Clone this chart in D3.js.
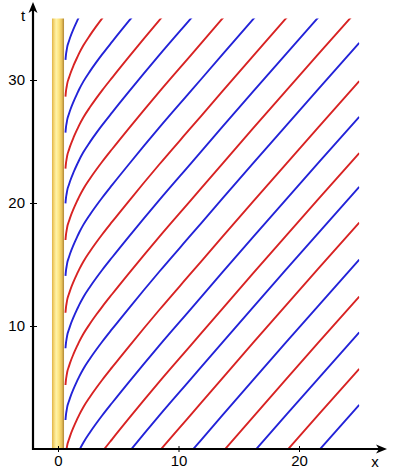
<!DOCTYPE html>
<html>
<head>
<meta charset="utf-8">
<script src="https://cdn.jsdelivr.net/npm/d3@7/dist/d3.min.js"></script>
<style>
  html, body { margin: 0; padding: 0; background: #fff; }
  svg { display: block; }
  text { font-family: "Liberation Sans", Arial, sans-serif; font-size: 15px; fill: #000; }
</style>
</head>
<body>
<svg id="chart" width="407" height="471"></svg>
<script>
// ---- data ----
const xTicks = [0, 10, 20];
const tTicks = [10, 20, 30];
// time at which each wavefront leaves the cylinder (t at x = 0.62)
const startTimes = [-27.07, -24.13, -21.17, -18.26, -15.26, -12.24, -9.34, -6.59, -3.64, -0.75,
                    2.36, 5.2, 8.19, 11.08, 14.07, 16.99, 19.97, 22.8, 25.72, 28.65, 31.63];
const lineColors = ["#2323d8", "#d82323"]; // alternate: blue, red (blue at t0 = 2.36)
// shape of one wavefront: x and time elapsed since leaving the cylinder
const profileX  = [0.62, 0.66, 0.72, 0.77, 0.9, 1.0, 1.3, 1.6, 1.77, 2.1, 2.66, 3.2, 3.68, 4.5, 5.9, 8.4, 11.0, 13.6, 16.2, 18.9, 21.6, 25.0];
const profileDt = [0, 0.42, 0.8, 1.08, 1.5, 1.8, 2.55, 3.2, 3.55, 4.15, 5.0, 5.75, 6.38, 7.4, 9.1, 12.05, 15.0, 17.95, 20.88, 23.9, 26.9, 30.65];
const cylinder = {x0: -0.5, x1: 0.5, t1: 35};
const plotRange = {x0: 0.5, x1: 25, t0: 0, t1: 35};

// ---- scales ----
const svg = d3.select("#chart");
const x = d3.scaleLinear().domain([0, 10]).range([58, 178.5]);
const y = d3.scaleLinear().domain([0, 10]).range([449, 326]);
const xMin = x.invert(33), xMax = x.invert(387);
const tMax = y.invert(2);

// ---- defs ----
const defs = svg.append("defs");
const grad = defs.append("linearGradient").attr("id", "gold").attr("x1", "0").attr("x2", "1").attr("y1", "0").attr("y2", "0");
[["0%", "#dfb246"], ["15%", "#f3d36e"], ["35%", "#fff3a8"], ["58%", "#fde47e"], ["80%", "#e9c45c"], ["100%", "#b08636"]]
  .forEach(([o, c]) => grad.append("stop").attr("offset", o).attr("stop-color", c));
defs.append("clipPath").attr("id", "plotclip").append("rect")
  .attr("x", x(plotRange.x0)).attr("y", y(plotRange.t1))
  .attr("width", x(plotRange.x1) - x(plotRange.x0))
  .attr("height", y(plotRange.t0) - y(plotRange.t1));

// ---- cylinder ----
svg.append("rect")
  .attr("x", x(cylinder.x0)).attr("y", y(cylinder.t1))
  .attr("width", x(cylinder.x1) - x(cylinder.x0))
  .attr("height", y(0) - y(cylinder.t1))
  .attr("fill", "url(#gold)");

// ---- wavefronts ----
const line = d3.line().x(d => x(d[0])).y(d => y(d[1])).curve(d3.curveMonotoneX);
const gLines = svg.append("g").attr("clip-path", "url(#plotclip)");
startTimes.forEach((s, i) => {
  const pts = profileX.map((px, j) => [px, s + profileDt[j]]);
  gLines.append("path")
    .attr("d", line(pts))
    .attr("fill", "none")
    .attr("stroke", lineColors[i % 2 === 0 ? 0 : 1])
    .attr("stroke-width", 1.9);
});

// ---- axes ----
const axisX = svg.append("g").attr("transform", `translate(0,${y(0)})`)
  .call(d3.axisBottom(x).tickValues(xTicks).tickSize(3).tickPadding(5).tickFormat(d3.format("d")));
axisX.select(".domain").remove();
axisX.selectAll(".tick line").attr("y1", -3).attr("y2", 3).attr("stroke-width", 1);
axisX.selectAll(".tick text").attr("dy", "0.71em").attr("y", 6)
  .style("font-size", "15px").style("font-family", "Liberation Sans, Arial, sans-serif");

const axisT = svg.append("g").attr("transform", `translate(${x(xMin)},0)`)
  .call(d3.axisLeft(y).tickValues(tTicks).tickSize(3).tickPadding(5).tickFormat(d3.format("d")));
axisT.select(".domain").remove();
axisT.selectAll(".tick line").attr("x1", -3).attr("x2", 4).attr("stroke-width", 1);
axisT.selectAll(".tick text").attr("x", -8)
  .style("font-size", "15px").style("font-family", "Liberation Sans, Arial, sans-serif");

// axis lines with arrow heads
svg.append("line").attr("x1", x(xMin)).attr("x2", x(xMax) - 8)
  .attr("y1", y(0)).attr("y2", y(0)).attr("stroke", "#000").attr("stroke-width", 2.2);
svg.append("path")
  .attr("d", `M${x(xMax)},${y(0)} L${x(xMax) - 11},${y(0) - 4.5} L${x(xMax) - 8},${y(0)} L${x(xMax) - 11},${y(0) + 4.5} Z`)
  .attr("fill", "#000");
svg.append("line").attr("x1", x(xMin)).attr("x2", x(xMin))
  .attr("y1", y(0) + 1.1).attr("y2", y(tMax) + 8).attr("stroke", "#000").attr("stroke-width", 2.2);
svg.append("path")
  .attr("d", `M${x(xMin)},${y(tMax)} L${x(xMin) - 4.5},${y(tMax) + 11} L${x(xMin)},${y(tMax) + 8} L${x(xMin) + 4.5},${y(tMax) + 11} Z`)
  .attr("fill", "#000");

// axis labels
svg.append("text").attr("x", 375).attr("y", 467).attr("text-anchor", "middle").text("x");
svg.append("text").attr("x", 23).attr("y", 21).attr("text-anchor", "middle").text("t");
</script>
</body>
</html>
